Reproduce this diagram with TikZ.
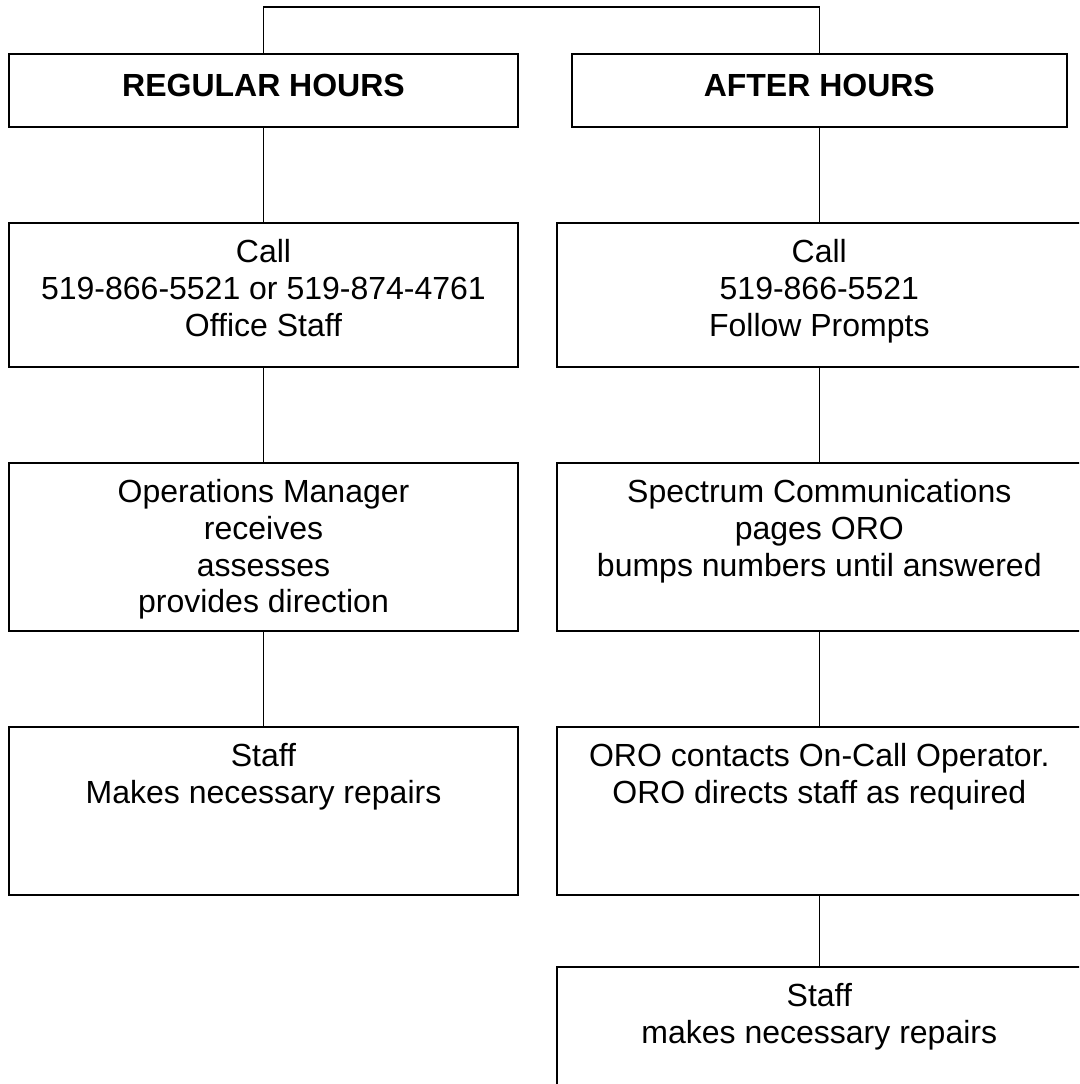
\documentclass[tikz,border=0pt]{standalone}
\usepackage{fontspec}
\setmainfont{Liberation Sans}
\begin{document}
\begin{tikzpicture}[x=0.75pt,y=-0.75pt,
  box/.style={draw=black,line width=1.5pt,rectangle,inner sep=0pt,outer sep=0pt},
  lbox/.style={box,minimum width=509.7*0.75pt},
  rbox/.style={box,minimum width=525.5*0.75pt},
  txt/.style={inner sep=0pt,outer sep=0pt,align=center,anchor=north,
    font=\fontsize{24}{27.5}\selectfont},
  link/.style={draw=black,line width=1pt}]
\useasboundingbox (0,0) rectangle (1079,1084);
\clip (0,0) rectangle (1079,1084);
\fill[white] (0,0) rectangle (1079,1084);
% row 1
\node[lbox,minimum height=73*0.75pt] (r1) at (263.5,90.5) {};
\node[box,minimum width=495.2*0.75pt,minimum height=73*0.75pt] (a1) at (819.3,90.5) {};
% row 2
\node[lbox,minimum height=144*0.75pt] (r2) at (263.5,294.7) {};
\node[rbox,minimum height=144*0.75pt] (a2) at (819.3,294.7) {};
% row 3
\node[lbox,minimum height=168*0.75pt] (r3) at (263.5,546.7) {};
\node[rbox,minimum height=168*0.75pt] (a3) at (819.3,546.7) {};
% row 4
\node[lbox,minimum height=168.3*0.75pt] (r4) at (263.5,810.85) {};
\node[rbox,minimum height=168.3*0.75pt] (a4) at (819.3,810.85) {};
% row 5
\node[rbox,minimum height=168*0.75pt] (a5) at (819.3,1050.7) {};
% texts
\node[txt,font=\fontsize{24}{27.5}\selectfont\bfseries] (t1) at (263.5,72.7) {\rule{0pt}{18pt}REGULAR HOURS};
\node[txt,font=\fontsize{24}{27.5}\selectfont\bfseries] (u1) at (819.3,72.7) {\rule{0pt}{18pt}AFTER HOURS};
\node[txt] (t2) at (263.5,238.7) {\rule{0pt}{18pt}Call\\519-866-5521 or 519-874-4761\\Office Staff};
\node[txt] (u2) at (819.3,238.7) {\rule{0pt}{18pt}Call\\519-866-5521\\Follow Prompts};
\node[txt] (t3) at (263.5,478.7) {\rule{0pt}{18pt}Operations Manager\\receives\\assesses\\provides direction};
\node[txt] (u3) at (819.3,478.7) {\rule{0pt}{18pt}Spectrum Communications\\pages ORO\\bumps numbers until answered};
\node[txt] (t4) at (263.5,742.7) {\rule{0pt}{18pt}Staff\\Makes necessary repairs};
\node[txt] (u4) at (819.3,742.7) {\rule{0pt}{18pt}ORO contacts On-Call Operator.\\ORO directs staff as required};
\node[txt] (u5) at (819.3,982.7) {\rule{0pt}{18pt}Staff\\makes necessary repairs};
% connectors
\coordinate (topl) at (263.5,7);
\coordinate (topr) at (819.3,7);
\draw[link,line join=miter] (r1.north) -- (topl) -- (topr) -- (a1.north);
\draw[link] (r1.south) -- (r2.north);
\draw[link] (r2.south) -- (r3.north);
\draw[link] (r3.south) -- (r4.north);
\draw[link] (a1.south) -- (a2.north);
\draw[link] (a2.south) -- (a3.north);
\draw[link] (a3.south) -- (a4.north);
\draw[link] (a4.south) -- (a5.north);
\end{tikzpicture}
\end{document}
